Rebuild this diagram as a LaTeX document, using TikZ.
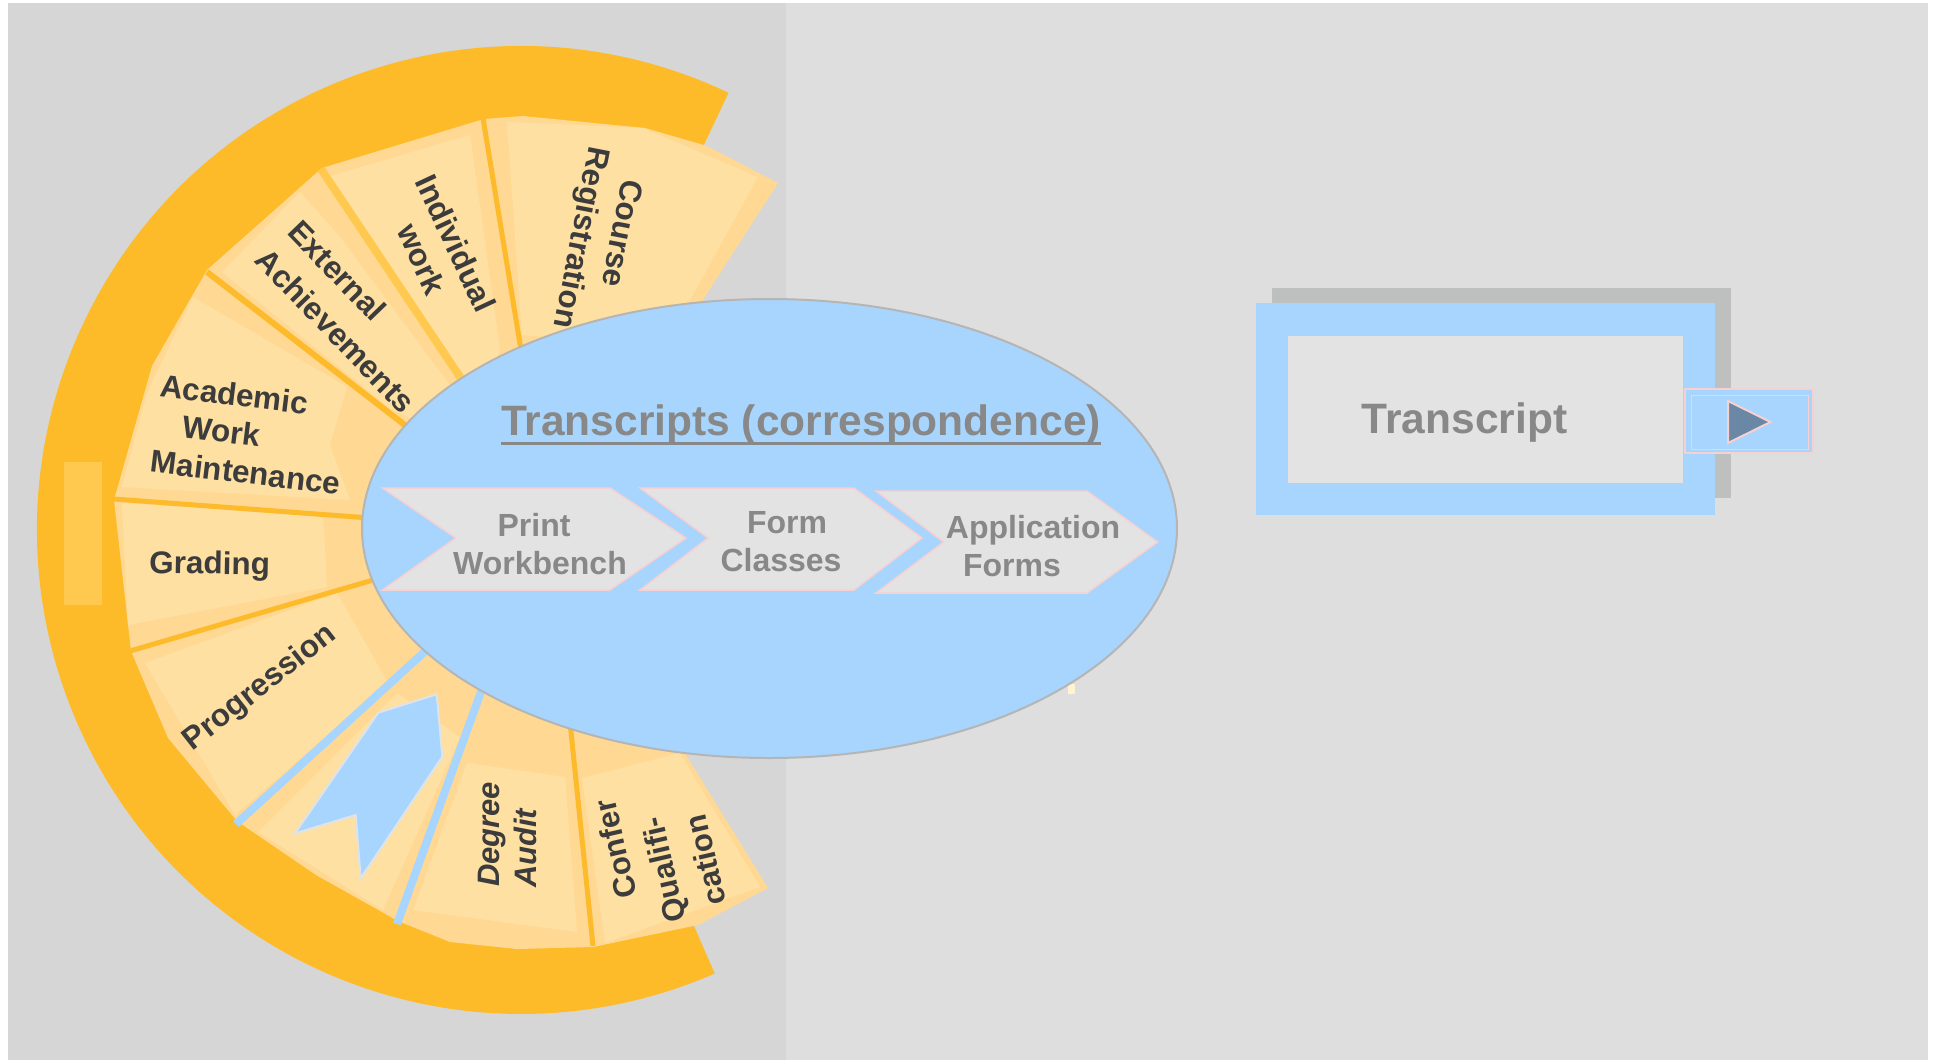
\documentclass[tikz,border=0pt]{standalone}
\usepackage{fontspec}
\setmainfont{Liberation Sans}
\usetikzlibrary{calc}
\definecolor{ringc}{HTML}{FEBB29}
\definecolor{stripec}{HTML}{FFC84E}
\definecolor{fandark}{HTML}{FFD993}
\definecolor{fanlight}{HTML}{FFE0A3}
\definecolor{sepor}{HTML}{FDBA2B}
\definecolor{sepl}{HTML}{FFC94F}
\definecolor{skyb}{HTML}{A8D5FD}
\definecolor{panelL}{HTML}{D6D6D6}
\definecolor{panelR}{HTML}{DEDEDE}
\definecolor{labelc}{HTML}{3C3C3C}
\definecolor{grayt}{HTML}{888888}
\definecolor{chevf}{HTML}{E3E3E3}
\definecolor{pinkb}{HTML}{F7D0D2}
\definecolor{shadowc}{HTML}{BEBFBF}
\definecolor{trif}{HTML}{6A88A6}
\definecolor{ellb}{HTML}{B5B5B5}
\definecolor{arrowb}{HTML}{DCE3EA}
\definecolor{creamc}{HTML}{FFF4D2}
\begin{document}
\begin{tikzpicture}[x=1pt,y=-1pt,
  wlabel/.style={text=labelc, inner sep=0pt, align=center, font=\fontsize{31.5}{38}\selectfont\bfseries},
  chevtext/.style={text=grayt, inner sep=0pt, align=center, font=\fontsize{32}{38.3}\selectfont\bfseries},
  bigtext/.style={text=grayt, inner sep=0pt, font=\fontsize{42.5}{50}\selectfont\bfseries},
  chevron/.style={fill=chevf, draw=pinkb, line width=1.5pt},
  orsep/.style={draw=sepor, line cap=butt},
  blsep/.style={draw=skyb, line width=8pt, line cap=butt},
  panel/.style={fill=fanlight},
]
\useasboundingbox (0,0) rectangle (1937,1060);
\fill[white] (0,0) rectangle (1937,1060);
\fill[panelL] (8,3) rectangle (786,1060);
\fill[panelR] (786,3) rectangle (1928,1060);

% orange ring
\fill[ringc] ($(521,530)+(-64.6:484)$) arc[start angle=-64.6, end angle=-293.6, radius=484]
  -- ($(521,530)+(-293.6:390)$) arc[start angle=-293.6, end angle=-64.6, radius=390] -- cycle;
\fill[stripec] (64,462) rectangle (102,605);

% fan base
\fill[fandark] (551,536) -- (768,888) -- (698,925) -- (593,947) -- (517,949) -- (450,942)
  -- (398,921) -- (316,875) -- (237,821) -- (168,738) -- (131,651) -- (114,500) -- (152,366)
  -- (207,270) -- (322,168) -- (484,119) -- (523,116) -- (645,128) -- (707,146) -- (778,183) -- cycle;

% lighter panels
\fill[panel] (507,122) -- (643,128) -- (758,177) -- (690,300) -- (640,345) -- (522,335) -- cycle;
\fill[panel] (330,176) -- (470,135) -- (500,350) -- (485,395) -- (463,388) -- cycle;
\fill[panel] (222,272) -- (300,192) -- (340,237) -- (455,392) -- (410,418) -- (392,410) -- cycle;
\fill[panel] (193,297) -- (347,387) -- (330,445) -- (350,500) -- (122,487) -- (147,393) -- cycle;
\fill[panel] (122,503) -- (323,515) -- (327,587) -- (128,625) -- cycle;
\fill[panel] (145,663) -- (337,593) -- (388,683) -- (235,815) -- cycle;
\fill[panel] (258,832) -- (397,693) -- (460,737) -- (383,910) -- cycle;
\fill[panel] (467,763) -- (565,777) -- (577,932) -- (413,910) -- cycle;
\fill[panel] (582,778) -- (680,753) -- (760,887) -- (605,943) -- cycle;

% separators
\draw[orsep, line width=5pt] (483,118) -- (522,356);
\draw[draw=sepl, line width=8pt] (321,169) -- (466,386);
\draw[orsep, line width=6pt] (207,272) -- (410,429);
\draw[orsep, line width=5pt] (114,499) -- (370,518);
\draw[orsep, line width=5pt] (130,651) -- (380,578);
\draw[blsep] (236,824) -- (432,645);
\draw[blsep] (397,924) -- (486,678);
\draw[orsep, line width=5pt] (593,946) -- (570,722);

% arrow in the blank segment
\draw[fill=skyb, draw=arrowb, line width=2pt, line join=miter] (378.3,712.7) -- (436.7,694.3) -- (442.3,756.7)
  -- (360.7,878.3) -- (355.7,815) -- (295,833.3) -- cycle;

% segment labels
\node[wlabel, rotate=-101, font=\fontsize{31.5}{39}\selectfont\bfseries] (cr) at (599.5,235)
  {\makebox[0pt]{\hspace*{-12pt}Course}\\\makebox[0pt]{\hspace*{12pt}Registration}};
\node[wlabel, rotate=-65, font=\fontsize{31.5}{37.5}\selectfont\bfseries] (iw) at (439,251) {Individual\\work};
\node[wlabel, rotate=-46, font=\fontsize{31.5}{43}\selectfont\bfseries] (ea) at (336.6,300.7)
  {\makebox[0pt]{\hspace*{-42pt}External}\\\makebox[0pt]{\hspace*{42pt}Achievements}};
\node[wlabel, rotate=-7] (awm) at (221.7,431)
  {\makebox[0pt]{\hspace*{16pt}Academic}\\\makebox[0pt]{Work}\\\makebox[0pt]{\hspace*{58pt}Maintenance}};
\node[wlabel, rotate=-1] (gr) at (209.7,566) {Grading};
\node[wlabel, rotate=38] (pr) at (260,688.3) {Progression};
\node[wlabel, rotate=90, font=\fontsize{31}{37.5}\selectfont\bfseries\itshape] (da) at (507.6,841.3)
  {\makebox[0pt]{\hspace*{14pt}Degree}\\\makebox[0pt]{\hspace*{-14pt}Audit}};
\node[wlabel, rotate=103, font=\fontsize{31}{42.5}\selectfont\bfseries] (cq) at (663.6,870)
  {\makebox[0pt]{\hspace*{62pt}Confer}\\\makebox[0pt]{Qualifi-}\\\makebox[0pt]{cation}};

% small cream sliver
\fill[creamc] (1068,684) rectangle (1075,694);

% central ellipse
\draw[fill=skyb, draw=ellb, line width=2pt] (769.5,528.5) ellipse[x radius=407.5, y radius=229.5];

\node[bigtext, anchor=base] (title) at (801,435) {Transcripts (correspondence)};
\draw[grayt, line width=3pt] ([yshift=-8.5pt]title.base west) -- ([yshift=-8.5pt]title.base east);

% chevrons
\draw[chevron] (382.5,488) -- (610,488) -- (686,538) -- (610,590) -- (382.5,590) -- (455.7,538) -- cycle;
\draw[chevron] (640,488) -- (854,488) -- (922,538) -- (854,590) -- (640,590) -- (708,538) -- cycle;
\draw[chevron] (876,491) -- (1087,491) -- (1157.6,542) -- (1087,593) -- (876,593) -- (943.5,542) -- cycle;
\node[chevtext] (c1) at (537,544.4) {\makebox[0pt]{\hspace*{-6pt}Print}\\\makebox[0pt]{\hspace*{6pt}Workbench}};
\node[chevtext] (c2) at (784,541.8) {\makebox[0pt]{\hspace*{6pt}Form}\\\makebox[0pt]{\hspace*{-6pt}Classes}};
\node[chevtext] (c3) at (1033,545.9) {\makebox[0pt]{Application}\\\makebox[0pt]{\hspace*{-42pt}Forms}};

% transcript box
\fill[shadowc] (1271.5,288) rectangle (1731,498);
\fill[skyb] (1256,303) rectangle (1715,515);
\fill[chevf] (1288,336) rectangle (1683,483);
\node[bigtext, anchor=base] (tr) at (1464.5,433) {Transcript};

% play button
\draw[fill=skyb, draw=pinkb, line width=2.5pt] (1685,389) rectangle (1813,453);
\draw[pinkb, line width=1pt] (1691,395) rectangle (1808,449);
\draw[fill=trif, draw=pinkb, line width=2pt] (1728,401) -- (1728,443) -- (1770.5,422) -- cycle;
\end{tikzpicture}
\end{document}
